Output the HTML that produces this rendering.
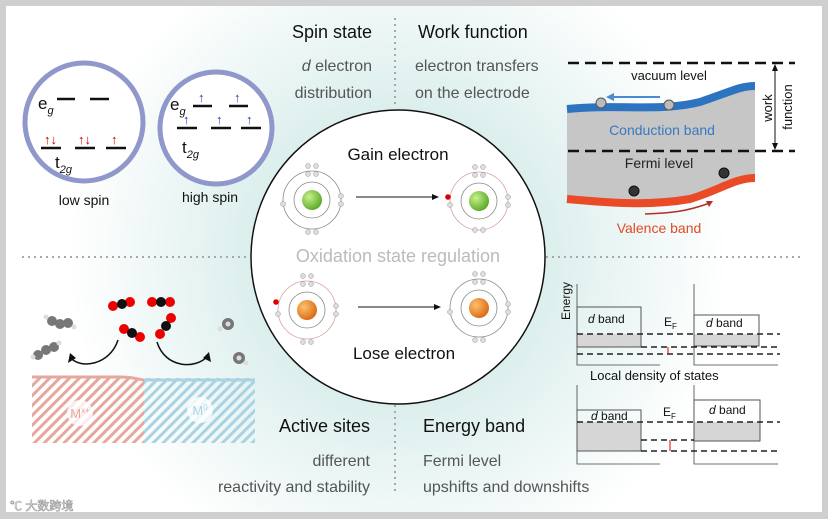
<!DOCTYPE html>
<html><head><meta charset="utf-8"><style>
html,body{margin:0;padding:0;background:#fff}
svg{display:block;font-family:"Liberation Sans","Noto Sans CJK SC",sans-serif}
</style></head><body>
<svg width="828" height="519" viewBox="0 0 828 519" xmlns="http://www.w3.org/2000/svg">
<defs>
<radialGradient id="bg" cx="398" cy="257" r="330" gradientUnits="userSpaceOnUse">
<stop offset="0" stop-color="#bfe3dd"/><stop offset="0.45" stop-color="#dcefed"/><stop offset="1" stop-color="#ffffff"/>
</radialGradient>
<radialGradient id="g1" cx="0.35" cy="0.35" r="0.7"><stop offset="0" stop-color="#c8f08a"/><stop offset="1" stop-color="#5aa82a"/></radialGradient>
<radialGradient id="o1" cx="0.35" cy="0.35" r="0.7"><stop offset="0" stop-color="#ffc070"/><stop offset="1" stop-color="#d86a10"/></radialGradient>
<pattern id="hr" width="7" height="7" patternUnits="userSpaceOnUse" patternTransform="rotate(45)"><rect width="3" height="7" fill="#e6a79c"/></pattern>
<pattern id="hb" width="7" height="7" patternUnits="userSpaceOnUse" patternTransform="rotate(45)"><rect width="3" height="7" fill="#a9d3e3"/></pattern>
<marker id="ar" markerWidth="8" markerHeight="8" refX="6" refY="3" orient="auto"><path d="M0,0 L7,3 L0,6 z" fill="#111"/></marker>
</defs>
<rect width="828" height="519" fill="#cfcfcf"/>
<rect x="6" y="6" width="816" height="506" fill="url(#bg)"/>

<g stroke="#a8a8a8" stroke-width="2" stroke-dasharray="2,4">
<line x1="395" y1="18" x2="395" y2="105"/><line x1="395" y1="405" x2="395" y2="495"/>
<line x1="22" y1="257" x2="250" y2="257"/><line x1="546" y1="257" x2="800" y2="257"/>
</g>

<text x="372" y="38" text-anchor="end" font-size="18" fill="#111">Spin state</text>
<text x="372" y="71" text-anchor="end" font-size="16" fill="#555"><tspan font-style="italic">d</tspan> electron</text>
<text x="372" y="98" text-anchor="end" font-size="16" fill="#555">distribution</text>
<circle cx="84" cy="122" r="59" fill="#fff" stroke="#8f97cb" stroke-width="5"/>
<circle cx="216" cy="128" r="56" fill="#fff" stroke="#8f97cb" stroke-width="5"/>
<g stroke="#111" stroke-width="2.5">
<line x1="57" y1="99" x2="75" y2="99"/><line x1="90" y1="99" x2="109" y2="99"/>
<line x1="41" y1="148" x2="61" y2="148"/><line x1="75" y1="148" x2="95" y2="148"/><line x1="106" y1="148" x2="126" y2="148"/>
<line x1="193" y1="106" x2="212" y2="106"/><line x1="229" y1="106" x2="248" y2="106"/>
<line x1="177" y1="128" x2="197" y2="128"/><line x1="211" y1="128" x2="231" y2="128"/><line x1="241" y1="128" x2="261" y2="128"/>
</g>
<g font-size="13" fill="#c00" font-weight="bold"><text x="44" y="144">↑↓</text><text x="78" y="144">↑↓</text><text x="111" y="144">↑</text></g>
<g font-size="13" fill="#1a3fb0" font-weight="bold"><text x="198" y="102">↑</text><text x="234" y="102">↑</text><text x="183" y="124">↑</text><text x="216" y="124">↑</text><text x="246" y="124">↑</text></g>
<text x="38" y="109" font-size="17" fill="#111">e<tspan font-size="11" font-style="italic" dy="5">g</tspan></text>
<text x="55" y="168" font-size="17" fill="#111">t<tspan font-size="11" font-style="italic" dy="5">2g</tspan></text>
<text x="170" y="110" font-size="17" fill="#111">e<tspan font-size="11" font-style="italic" dy="5">g</tspan></text>
<text x="182" y="153" font-size="17" fill="#111">t<tspan font-size="11" font-style="italic" dy="5">2g</tspan></text>
<text x="84" y="205" text-anchor="middle" font-size="14" fill="#111">low spin</text>
<text x="210" y="202" text-anchor="middle" font-size="14" fill="#111">high spin</text>

<circle cx="398" cy="257" r="147" fill="#fff" stroke="#111" stroke-width="1.5"/>
<text x="398" y="160" text-anchor="middle" font-size="17" fill="#111">Gain electron</text>
<text x="398" y="262" text-anchor="middle" font-size="18" fill="#bbb">Oxidation state regulation</text>
<text x="404" y="359" text-anchor="middle" font-size="17" fill="#111">Lose electron</text>
<g fill="none" stroke="#888" stroke-width="0.8">
<circle cx="312" cy="200" r="18"/><circle cx="312" cy="200" r="29"/>
<circle cx="479" cy="201" r="18"/><circle cx="479" cy="201" r="29" stroke="#d9a0a0"/>
<circle cx="307" cy="310" r="18"/><circle cx="307" cy="310" r="29" stroke="#d9a0a0"/>
<circle cx="479" cy="308" r="18"/><circle cx="479" cy="308" r="29"/>
</g>
<circle cx="312" cy="200" r="10" fill="url(#g1)"/><circle cx="479" cy="201" r="10" fill="url(#g1)"/>
<circle cx="307" cy="310" r="10" fill="url(#o1)"/><circle cx="479" cy="308" r="10" fill="url(#o1)"/>
<g fill="#ddd" stroke="#999" stroke-width="0.5">
<circle cx="308" cy="166" r="2.5"/><circle cx="316" cy="166" r="2.5"/><circle cx="308" cy="174" r="2.5"/><circle cx="316" cy="174" r="2.5"/>
<circle cx="308" cy="232" r="2.5"/><circle cx="316" cy="232" r="2.5"/><circle cx="283" cy="204" r="2.5"/><circle cx="341" cy="196" r="2.5"/><circle cx="341" cy="204" r="2.5"/>
<circle cx="475" cy="167" r="2.5"/><circle cx="483" cy="167" r="2.5"/><circle cx="475" cy="175" r="2.5"/><circle cx="483" cy="175" r="2.5"/>
<circle cx="475" cy="230" r="2.5"/><circle cx="483" cy="230" r="2.5"/><circle cx="450" cy="205" r="2.5"/><circle cx="508" cy="197" r="2.5"/><circle cx="508" cy="205" r="2.5"/>
<circle cx="303" cy="276" r="2.5"/><circle cx="311" cy="276" r="2.5"/><circle cx="303" cy="284" r="2.5"/><circle cx="311" cy="284" r="2.5"/>
<circle cx="303" cy="342" r="2.5"/><circle cx="311" cy="342" r="2.5"/><circle cx="278" cy="314" r="2.5"/><circle cx="336" cy="306" r="2.5"/><circle cx="336" cy="314" r="2.5"/>
<circle cx="475" cy="274" r="2.5"/><circle cx="483" cy="274" r="2.5"/><circle cx="475" cy="282" r="2.5"/><circle cx="483" cy="282" r="2.5"/>
<circle cx="475" cy="340" r="2.5"/><circle cx="483" cy="340" r="2.5"/><circle cx="450" cy="312" r="2.5"/><circle cx="508" cy="304" r="2.5"/><circle cx="508" cy="312" r="2.5"/>
</g>
<circle cx="448" cy="197" r="2.8" fill="#d00"/><circle cx="276" cy="302" r="2.8" fill="#d00"/>
<line x1="356" y1="197" x2="438" y2="197" stroke="#111" stroke-width="1" marker-end="url(#ar)"/>
<line x1="358" y1="307" x2="440" y2="307" stroke="#111" stroke-width="1" marker-end="url(#ar)"/>

<text x="418" y="38" font-size="18" fill="#111">Work function</text>
<text x="415" y="71" font-size="16" fill="#555">electron transfers</text>
<text x="415" y="98" font-size="16" fill="#555">on the electrode</text>
<path d="M567,108 C620,102 660,108 700,100 C730,92 740,86 755,86 L755,178 C735,178 720,190 690,198 C650,205 610,202 567,200 Z" fill="#c6c6c6"/>
<path d="M567,109 C620,104 660,112 700,102 C730,92 740,86 755,86" fill="none" stroke="#2d74c0" stroke-width="8"/>
<path d="M567,199 C610,203 650,206 690,199 C720,190 735,178 755,178" fill="none" stroke="#ea4a25" stroke-width="8"/>
<g stroke="#111" stroke-width="2.5" stroke-dasharray="11,6"><line x1="568" y1="63" x2="795" y2="63"/><line x1="568" y1="151" x2="795" y2="151"/></g>
<text x="669" y="80" text-anchor="middle" font-size="13" fill="#111">vacuum level</text>
<text x="662" y="135" text-anchor="middle" font-size="14" fill="#3a78c0">Conduction band</text>
<text x="659" y="168" text-anchor="middle" font-size="14" fill="#222">Fermi level</text>
<text x="659" y="233" text-anchor="middle" font-size="14" fill="#e24a25">Valence band</text>
<line x1="660" y1="97" x2="612" y2="97" stroke="#4a8ad0" stroke-width="2"/><path d="M606,97 L614,93 L614,101 Z" fill="#4a8ad0"/>
<path d="M645,214 C670,213 685,212 710,203" fill="none" stroke="#b0302a" stroke-width="1.5"/><path d="M713,201 L706,201 L709,207 Z" fill="#b0302a"/>
<circle cx="601" cy="103" r="5" fill="#bbb" stroke="#555"/><circle cx="669" cy="105" r="5" fill="#bbb" stroke="#555"/>
<circle cx="634" cy="191" r="5" fill="#333" stroke="#111"/><circle cx="724" cy="173" r="5" fill="#333" stroke="#111"/>
<line x1="775" y1="67" x2="775" y2="147" stroke="#111" stroke-width="1"/>
<path d="M775,64 L772,71 L778,71 Z M775,150 L772,143 L778,143 Z" fill="#111"/>
<text transform="translate(772,108) rotate(-90)" text-anchor="middle" font-size="13" fill="#111">work</text>
<text transform="translate(792,107) rotate(-90)" text-anchor="middle" font-size="13" fill="#111">function</text>

<rect x="32" y="378" width="112" height="65" fill="url(#hr)"/>
<rect x="144" y="378" width="111" height="65" fill="url(#hb)"/>
<path d="M32,377 L120,377 C135,377 140,380 144,380 L255,380" fill="none" stroke="#e6a79c" stroke-width="3"/>
<line x1="144" y1="380" x2="255" y2="380" stroke="#a9d3e3" stroke-width="3"/>
<circle cx="80" cy="413" r="13" fill="#fff" opacity="0.8"/><circle cx="200" cy="410" r="13" fill="#fff" opacity="0.8"/>
<text x="80" y="418" text-anchor="middle" font-size="13" fill="#e6a79c">M<tspan font-size="8" dy="-5">x+</tspan></text>
<text x="200" y="415" text-anchor="middle" font-size="13" fill="#a9d3e3">M<tspan font-size="8" dy="-5">0</tspan></text>
<path d="M118,340 C110,365 80,370 70,357" fill="none" stroke="#111" stroke-width="1.5"/><path d="M68,363 L70,353 L76,358 Z" fill="#111"/>
<path d="M157,342 C165,368 195,370 208,356" fill="none" stroke="#111" stroke-width="1.5"/><path d="M211,362 L209,352 L203,358 Z" fill="#111"/>
<g fill="#e00"><circle cx="113" cy="306" r="5"/><circle cx="130" cy="302" r="5"/><circle cx="152" cy="302" r="5"/><circle cx="170" cy="302" r="5"/><circle cx="124" cy="329" r="5"/><circle cx="140" cy="337" r="5"/><circle cx="171" cy="318" r="5"/><circle cx="160" cy="334" r="5"/></g>
<g fill="#111"><circle cx="122" cy="304" r="5"/><circle cx="161" cy="302" r="5"/><circle cx="132" cy="333" r="5"/><circle cx="166" cy="326" r="5"/></g>
<g fill="#777"><circle cx="52" cy="321" r="5"/><circle cx="60" cy="324" r="5"/><circle cx="68" cy="323" r="5"/><circle cx="38" cy="355" r="5"/><circle cx="46" cy="350" r="5"/><circle cx="54" cy="347" r="5"/><circle cx="228" cy="324" r="6"/><circle cx="239" cy="358" r="6"/></g>
<g fill="#ddd"><circle cx="46" cy="317" r="2.5"/><circle cx="74" cy="327" r="2.5"/><circle cx="33" cy="357" r="2.5"/><circle cx="59" cy="343" r="2.5"/><circle cx="220" cy="329" r="2.5"/><circle cx="246" cy="363" r="2.5"/><circle cx="228" cy="324" r="2.5"/><circle cx="239" cy="358" r="2.5"/></g>
<text x="370" y="432" text-anchor="end" font-size="18" fill="#111">Active sites</text>
<text x="370" y="466" text-anchor="end" font-size="16" fill="#555">different</text>
<text x="370" y="492" text-anchor="end" font-size="16" fill="#555">reactivity and stability</text>
<text x="10" y="510" font-size="12" fill="#fff" stroke="#999" stroke-width="0.6">℃ 大数跨境</text>

<text x="423" y="432" font-size="18" fill="#111">Energy band</text>
<text x="423" y="466" font-size="16" fill="#555">Fermi level</text>
<text x="423" y="492" font-size="16" fill="#555">upshifts and downshifts</text>
<g stroke="#444" stroke-width="0.8" fill="none">
<path d="M577,284 L577,365 L660,365"/><path d="M694,284 L694,365 L778,365"/>
<path d="M577,385 L577,464 L660,464"/><path d="M694,385 L694,464 L778,464"/>
</g>
<rect x="577" y="334" width="64" height="13" fill="#d6d6d6"/>
<rect x="694" y="334" width="65" height="12" fill="#d6d6d6"/>
<rect x="577" y="422" width="64" height="29" fill="#d6d6d6"/>
<rect x="694" y="422" width="66" height="19" fill="#d6d6d6"/>
<g stroke="#555" stroke-width="1" fill="none">
<rect x="577" y="307" width="64" height="40"/><rect x="694" y="315" width="65" height="31"/>
<rect x="577" y="410" width="64" height="41"/><rect x="694" y="400" width="66" height="41"/>
</g>
<g stroke="#222" stroke-width="1.5" stroke-dasharray="6,4">
<line x1="577" y1="334" x2="780" y2="334"/><line x1="641" y1="347" x2="780" y2="347"/><line x1="577" y1="354" x2="780" y2="354"/>
<line x1="577" y1="422" x2="780" y2="422"/><line x1="641" y1="440" x2="694" y2="440"/><line x1="641" y1="451" x2="780" y2="451"/>
</g>
<line x1="668" y1="347" x2="668" y2="354" stroke="#d00" stroke-width="1"/>
<line x1="670" y1="440" x2="670" y2="451" stroke="#d00" stroke-width="1"/>
<g font-size="12" fill="#111">
<text x="588" y="323"><tspan font-style="italic">d</tspan>  band</text>
<text x="706" y="327"><tspan font-style="italic">d</tspan>  band</text>
<text x="591" y="420"><tspan font-style="italic">d</tspan>  band</text>
<text x="709" y="414"><tspan font-style="italic">d</tspan>  band</text>
<text x="664" y="326">E<tspan font-size="8" dy="3">F</tspan></text>
<text x="663" y="416">E<tspan font-size="8" dy="3">F</tspan></text>
<text x="590" y="380" font-size="13">Local density of states</text>
<text transform="translate(570,320) rotate(-90)" font-size="12">Energy</text>
</g>
</svg>
</body></html>
